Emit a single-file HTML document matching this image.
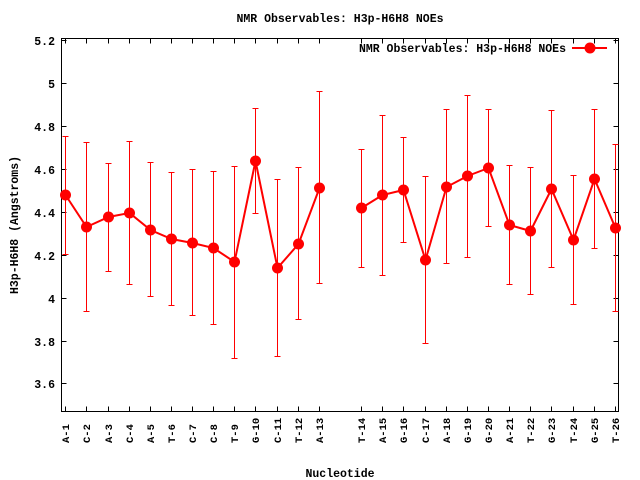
<!DOCTYPE html>
<html><head><meta charset="utf-8"><style>
html,body{margin:0;padding:0;background:#fff;}
svg{display:block;}
text{font-family:"Liberation Mono","DejaVu Sans Mono",monospace;font-weight:bold;fill:#000;}
</style></head><body>
<svg width="640" height="480" viewBox="0 0 640 480" xmlns="http://www.w3.org/2000/svg">
<rect width="640" height="480" fill="#fff"/>
<text x="340" y="22" font-size="11.5" text-anchor="middle">NMR Observables: H3p-H6H8 NOEs</text>
<g stroke="#000" stroke-width="1" fill="none">
<rect x="61.5" y="38.5" width="557" height="373"/>
<path d="M61.5 40.5h5M61.5 83.5h5M61.5 126.5h5M61.5 169.5h5M61.5 212.5h5M61.5 255.5h5M61.5 298.5h5M61.5 341.5h5M61.5 383.5h5
M618.5 40.5h-5M618.5 83.5h-5M618.5 126.5h-5M618.5 169.5h-5M618.5 212.5h-5M618.5 255.5h-5M618.5 298.5h-5M618.5 341.5h-5M618.5 383.5h-5"/>
</g>
<g font-size="11.5" text-anchor="end">
<text x="55" y="45">5.2</text><text x="55" y="88">5</text><text x="55" y="131">4.8</text><text x="55" y="174">4.6</text><text x="55" y="217">4.4</text><text x="55" y="260">4.2</text><text x="55" y="303">4</text><text x="55" y="346">3.8</text><text x="55" y="388">3.6</text>
</g>
<text transform="translate(18,225) rotate(-90)" font-size="11.5" text-anchor="middle">H3p-H6H8 (Angstroms)</text>
<text x="340" y="477" font-size="11.5" text-anchor="middle">Nucleotide</text>
<g id="xlab" font-size="10.5"></g>
<g id="ticks" stroke="#000" stroke-width="1"></g>
<g id="err" stroke="#f00" stroke-width="1"></g>
<g id="ln" fill="none" stroke="#f00" stroke-width="2"></g>
<g id="mk" fill="#f00"></g>
<text x="566" y="52" font-size="11.5" text-anchor="end">NMR Observables: H3p-H6H8 NOEs</text>
<line x1="572" y1="48" x2="607" y2="48" stroke="#f00" stroke-width="2"/>
<circle cx="590" cy="48" r="5.5" fill="#f00"/>
<script>
var D=[["A-1",65,136,195,255],["C-2",86,142,227,312],["A-3",108,163,217,272],["C-4",129,141,213,285],["A-5",150,162,230,297],["T-6",171,172,239,306],["C-7",192,169,243,316],["C-8",213,171,248,325],["T-9",234,166,262,359],["G-10",255,108,161,214],["C-11",277,179,268,357],["T-12",298,167,244,320],["A-13",319,91,188,284],
["T-14",361,149,208,268],["A-15",382,115,195,276],["G-16",403,137,190,243],["C-17",425,176,260,344],["A-18",446,109,187,264],["G-19",467,95,176,258],["G-20",488,109,168,227],["A-21",509,165,225,285],["T-22",530,167,231,295],["G-23",551,110,189,268],["T-24",573,175,240,305],["G-25",594,109,179,249],["T-26",615,144,228,312]];
var NS="http://www.w3.org/2000/svg";
function el(t,a,p,txt){var e=document.createElementNS(NS,t);for(var k in a)e.setAttribute(k,a[k]);if(txt)e.textContent=txt;document.getElementById(p).appendChild(e);}
var p1="",p2="";
D.forEach(function(d,i){var x=d[1]+0.5;
el("line",{x1:x,y1:411.5,x2:x,y2:406.5},"ticks");
el("line",{x1:x,y1:38.5,x2:x,y2:43.5},"ticks");
el("text",{transform:"translate("+(d[1]+4)+",443) rotate(-90)"},"xlab",d[0]);
el("line",{x1:x,y1:d[2],x2:x,y2:d[4]},"err");
el("line",{x1:x-3,y1:d[2]+0.5,x2:x+3,y2:d[2]+0.5},"err");
el("line",{x1:x-3,y1:d[4]-0.5,x2:x+3,y2:d[4]-0.5},"err");
el("circle",{cx:x,cy:d[3],r:5.5},"mk");
var s=x+" "+d[3];
if(i<13)p1+=(i?" L":"M")+s;else p2+=(i>13?" L":"M")+s;});
el("path",{d:p1},"ln");el("path",{d:p2},"ln");
</script>
</svg>
</body></html>
